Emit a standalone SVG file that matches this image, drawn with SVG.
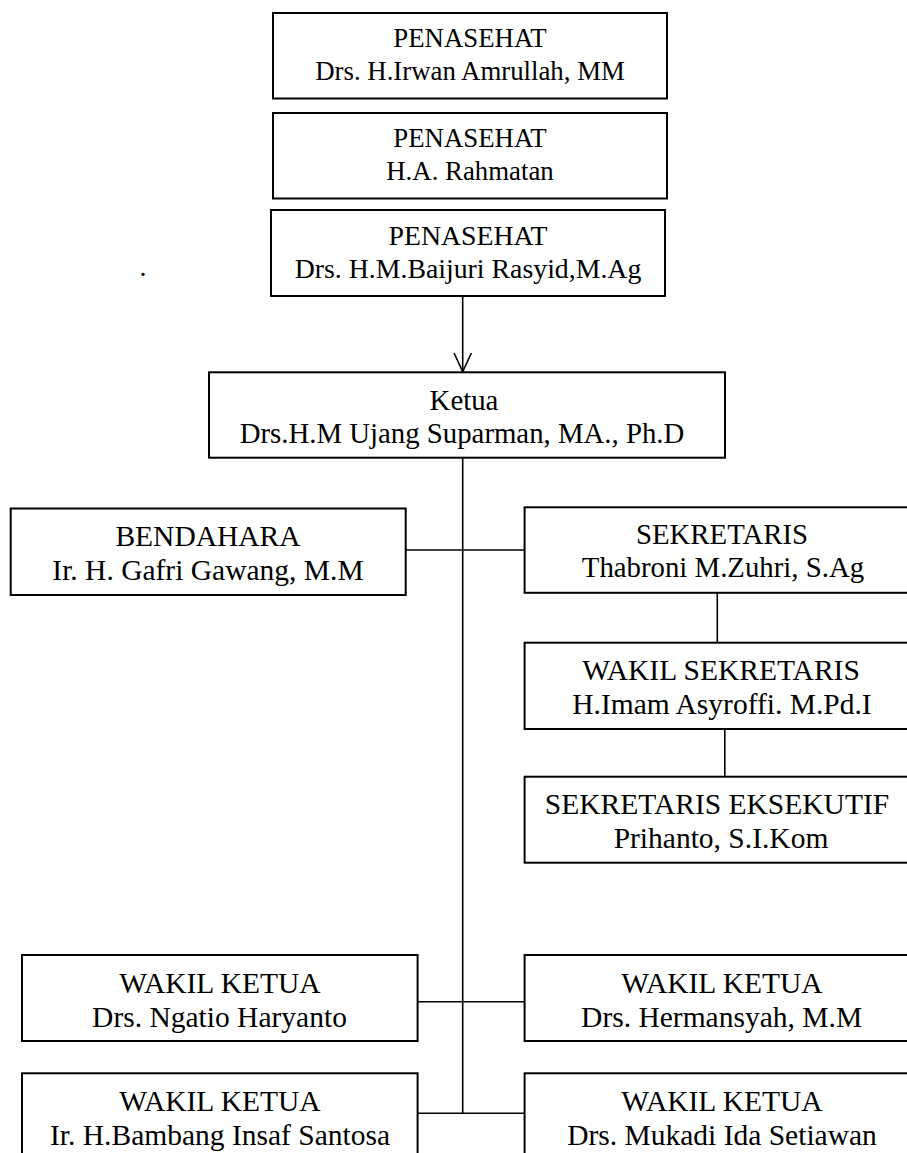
<svg xmlns="http://www.w3.org/2000/svg" width="907" height="1153" viewBox="0 0 907 1153">
<style>
.box{fill:#fff;stroke:#000;stroke-width:2}
.t{font-family:"Liberation Serif","Times New Roman",serif;font-size:28px;fill:#000;text-anchor:middle}
.s27{font-size:26.8px}
.s28{font-size:27.8px}
.s29{font-size:28.8px}
.s30{font-size:29.5px}
.c{stroke:#000;stroke-width:1.6;fill:none}
</style>
<rect width="907" height="1153" fill="#fff"/>
<g id="connectors">
<line class="c" x1="462.7" y1="296" x2="462.7" y2="371"/>
<path class="c" d="M454,353 L462.7,371.5 L471.4,353"/>
<line class="c" x1="462.7" y1="457.7" x2="462.7" y2="1113.3"/>
<line class="c" x1="405.7" y1="550" x2="524.6" y2="550"/>
<line class="c" x1="717.3" y1="593" x2="717.3" y2="642.7"/>
<line class="c" x1="724.8" y1="729" x2="724.8" y2="776.7"/>
<line class="c" x1="417.6" y1="1001.7" x2="524.6" y2="1001.7"/>
<line class="c" x1="417.6" y1="1113.3" x2="524.6" y2="1113.3"/>
</g>
<g id="penasehat1">
<rect class="box" x="273" y="13" width="394" height="85.5"/>
<text class="t s27" x="470" y="47">PENASEHAT</text>
<text class="t s27" x="470" y="80">Drs. H.Irwan Amrullah, MM</text>
</g>
<g id="penasehat2">
<rect class="box" x="273" y="113" width="394" height="85.5"/>
<text class="t s27" x="470" y="147">PENASEHAT</text>
<text class="t s27" x="470" y="180">H.A. Rahmatan</text>
</g>
<g id="penasehat3">
<rect class="box" x="271" y="210" width="394" height="86"/>
<text class="t s28" x="468" y="244.5">PENASEHAT</text>
<text class="t s28" x="468" y="278">Drs. H.M.Baijuri Rasyid,M.Ag</text>
</g>
<text class="t" x="143" y="276">.</text>
<g id="ketua">
<rect class="box" x="209" y="372.3" width="516" height="85.4"/>
<text class="t s29" x="464" y="409.5">Ketua</text>
<text class="t s29" x="462" y="442.5">Drs.H.M Ujang Suparman, MA., Ph.D</text>
</g>
<g id="bendahara">
<rect class="box" x="10.7" y="508.5" width="395" height="86.5"/>
<text class="t s30" x="208" y="546">BENDAHARA</text>
<text class="t s30" x="208" y="579.5">Ir. H. Gafri Gawang, M.M</text>
</g>
<g id="sekretaris">
<rect class="box" x="524.6" y="507.3" width="400" height="85.5"/>
<text class="t s29" x="722" y="543.5">SEKRETARIS</text>
<text class="t s29" x="723" y="577">Thabroni M.Zuhri, S.Ag</text>
</g>
<g id="wakil-sekretaris">
<rect class="box" x="524.6" y="642.7" width="400" height="86.3"/>
<text class="t s30" x="721" y="680">WAKIL SEKRETARIS</text>
<text class="t s30" x="722" y="713.5">H.Imam Asyroffi. M.Pd.I</text>
</g>
<g id="sekretaris-eksekutif">
<rect class="box" x="524.6" y="776.7" width="400" height="86"/>
<text class="t s30" x="717" y="814">SEKRETARIS EKSEKUTIF</text>
<text class="t s30" x="721" y="848">Prihanto, S.I.Kom</text>
</g>
<g id="wakil-ketua-1">
<rect class="box" x="22" y="955" width="395.6" height="86"/>
<text class="t s30" x="220" y="992.7">WAKIL KETUA</text>
<text class="t s30" x="219.5" y="1026.7">Drs. Ngatio Haryanto</text>
</g>
<g id="wakil-ketua-2">
<rect class="box" x="524.6" y="955" width="400" height="86"/>
<text class="t s30" x="722" y="992.7">WAKIL KETUA</text>
<text class="t s30" x="721.6" y="1026.7">Drs. Hermansyah, M.M</text>
</g>
<g id="wakil-ketua-3">
<rect class="box" x="22" y="1073.3" width="395.6" height="86"/>
<text class="t s30" x="220" y="1111">WAKIL KETUA</text>
<text class="t s30" x="220" y="1145">Ir. H.Bambang Insaf Santosa</text>
</g>
<g id="wakil-ketua-4">
<rect class="box" x="524.6" y="1073.3" width="400" height="86"/>
<text class="t s30" x="722" y="1111">WAKIL KETUA</text>
<text class="t s30" x="722" y="1145">Drs. Mukadi Ida Setiawan</text>
</g>
</svg>
